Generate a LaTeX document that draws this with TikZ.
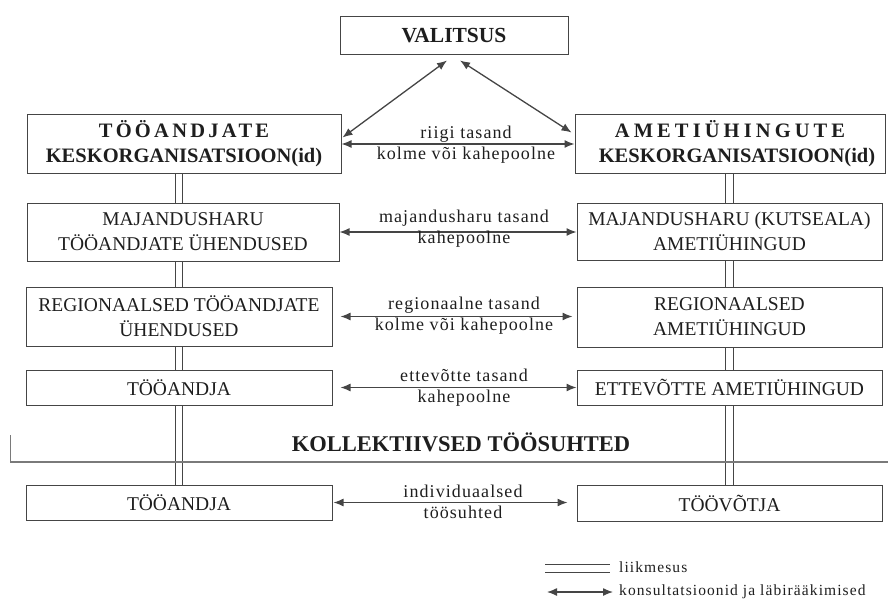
\documentclass[tikz,border=0pt]{standalone}
\usepackage{fontspec}
\setmainfont{Liberation Serif}
\usetikzlibrary{arrows.meta,calc}
\pgfdeclarelayer{bg}
\pgfsetlayers{bg,main}
\definecolor{ink}{HTML}{1E1E1E}
\definecolor{lin}{HTML}{454545}
\definecolor{sep}{HTML}{7A7A7A}
\begin{document}
\begin{tikzpicture}[x=1pt,y=-1pt,
  box/.style={draw=lin, line width=1pt, fill=white, inner sep=0pt, align=center, text=ink,
    font=\fontsize{19.5}{25}\selectfont},
  bbox/.style={box, font=\fontsize{20.5}{25}\selectfont\bfseries},
  lbl/.style={inner sep=0pt, align=center, text=ink,
    font=\fontsize{18}{21}\selectfont\addfontfeature{LetterSpace=6}},
  arr/.style={draw=lin, line width=1.3pt, {Latex[length=10pt,width=8pt]}-{Latex[length=10pt,width=8pt]}},
  member/.style={draw=lin, line width=0.9pt, double=white, double distance=6.5pt}
]
\useasboundingbox (0,0) rectangle (888,599);

% boxes
\node[bbox, minimum width=228pt, minimum height=38pt, font=\fontsize{21.5}{25}\selectfont\bfseries] (v) at (454,36) {VALITSUS};
\node[bbox, minimum width=314pt, minimum height=58pt] (tl) at (184,144)
  {{\addfontfeature{LetterSpace=16}TÖÖANDJATE}\\KESKORGANISATSIOON(id)};
\node[bbox, minimum width=310pt, minimum height=58pt] (tr) at (730,144)
  {{\addfontfeature{LetterSpace=20}AMETIÜHINGUTE}\\\hspace*{14pt}KESKORGANISATSIOON(id)};
\node[box, minimum width=312pt, minimum height=58pt] (ml) at (183,232)
  {MAJANDUSHARU\\TÖÖANDJATE ÜHENDUSED};
\node[box, minimum width=305pt, minimum height=57pt] (mr) at (729.5,231.5)
  {MAJANDUSHARU (KUTSEALA)\\AMETIÜHINGUD};
\node[box, minimum width=306pt, minimum height=59pt] (rl) at (179,316.5)
  {REGIONAALSED TÖÖANDJATE\\ÜHENDUSED};
\node[box, minimum width=305pt, minimum height=60pt] (rr) at (729.5,317)
  {REGIONAALSED\\AMETIÜHINGUD};
\node[box, minimum width=306pt, minimum height=35pt] (el) at (179,387.5) {TÖÖANDJA};
\node[box, minimum width=305pt, minimum height=35pt] (er) at (729.5,387.5) {ETTEVÕTTE AMETIÜHINGUD};
\node[box, minimum width=306pt, minimum height=35pt] (bl) at (179,502.5) {TÖÖANDJA};
\node[box, minimum width=305pt, minimum height=36pt] (br) at (729.5,503) {TÖÖVÕTJA};

% membership double lines (behind boxes) and separator
\begin{pgfonlayer}{bg}
  \draw[member] (tl.south -| bl.north) -- (bl.north);
  \draw[member] (tr.south -| br.north) -- (br.north);
  \coordinate (s0) at (10,435);
  \coordinate (s1) at (10,462);
  \coordinate (s2) at (888,462);
  \draw[sep, line width=0.8pt] (s0) -- (s1);
  \draw[sep, line width=2pt] (s1) -- (s2);
\end{pgfonlayer}

\node[text=ink, inner sep=0pt, font=\fontsize{22.5}{25}\selectfont\bfseries] (kt) at (461,442) {KOLLEKTIIVSED TÖÖSUHTED};

% consultation arrows
\draw[arr] ([xshift=-7pt,yshift=-5pt]v.south) -- ([xshift=1pt,yshift=-23pt]tl.north east);
\draw[arr] ([xshift=6pt,yshift=-5pt]v.south) -- ([xshift=-3pt,yshift=-18pt]tr.north west);
\draw[arr] (tl.east) -- (tr.west);
\draw[arr] (ml.east) -- (ml.east -| mr.west);
\draw[arr, shorten <=8pt, shorten >=4pt] (rl.east) -- (rl.east -| rr.west);
\draw[arr, shorten <=8pt] (el.east) -- (er.west);
\draw[arr, shorten <=1pt, shorten >=9pt] (bl.east) -- (bl.east -| br.west);

% arrow labels
\node[lbl] (l1) at (466,145) {riigi tasand\\kolme või kahepoolne};
\node[lbl] (l2) at (464,229) {majandusharu tasand\\kahepoolne};
\node[lbl] (l3) at (464,316) {regionaalne tasand\\kolme või kahepoolne};
\node[lbl] (l4) at (464,388) {ettevõtte tasand\\kahepoolne};
\node[lbl] (l5) at (463,502) {individuaalsed\\töösuhted};

% legend
\coordinate (g1a) at (545,568.5);
\coordinate (g1b) at (610,568.5);
\coordinate (g2a) at (547,592);
\coordinate (g2b) at (613,592);
\draw[member] (g1a) -- (g1b);
\draw[arr] (g2a) -- (g2b);
\node[lbl, anchor=west, font=\fontsize{15.5}{18}\selectfont\addfontfeature{LetterSpace=7}] (t1) at (619,567) {liikmesus};
\node[lbl, anchor=west, font=\fontsize{15.5}{18}\selectfont\addfontfeature{LetterSpace=7}] (t2) at (619,592) {konsultatsioonid ja läbirääkimised};
\end{tikzpicture}
\end{document}
